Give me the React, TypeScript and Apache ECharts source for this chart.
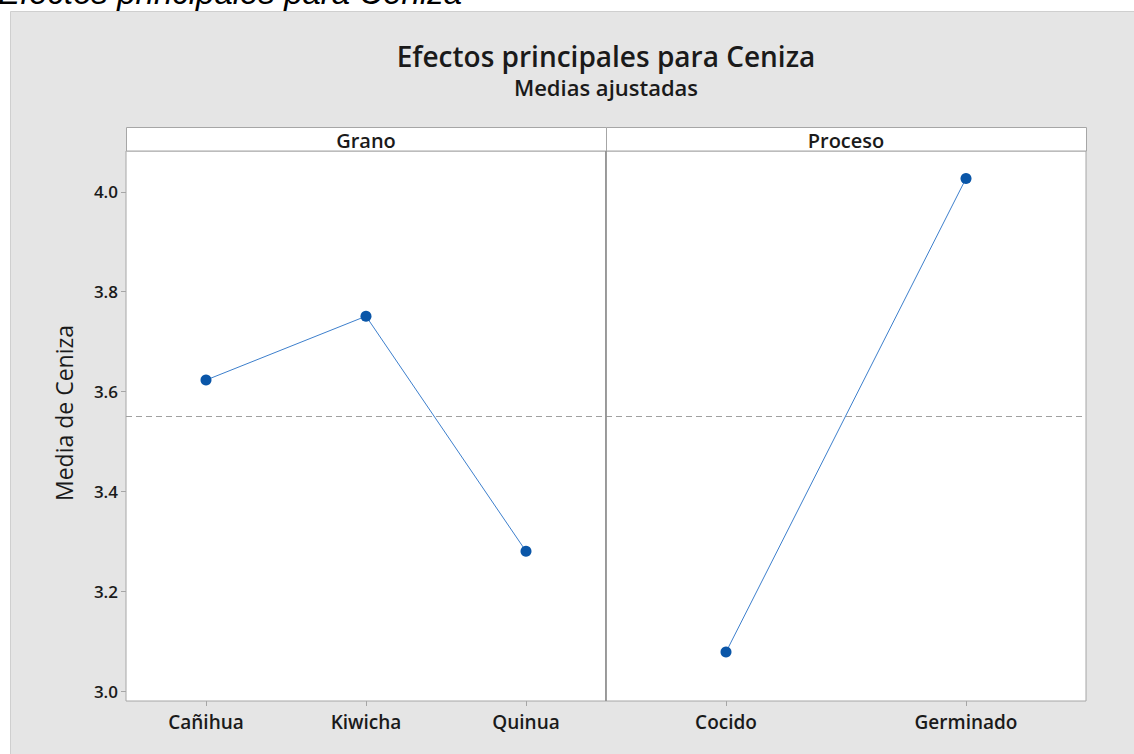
import React, { useEffect, useRef } from "react";
import * as echarts from "echarts";

const granoCats = ["Cañihua", "Kiwicha", "Quinua"];
const granoVals = [3.623, 3.751, 3.28];
const procesoCats = ["Cocido", "Germinado"];
const procesoVals = [3.078, 4.027];
const grandMean = 3.552;
const yTicks = [3.0, 3.2, 3.4, 3.6, 3.8, 4.0];
const panelTitles = ["Grano", "Proceso"];
const yAxisTitle = "Media de Ceniza";

const FONT = "'Open Sans', 'Noto Sans', sans-serif";
const TXT = "#1a1a1a";
const BORDER = "#a6a6a6";

export default function App() {
  const ref = useRef<HTMLDivElement>(null);
  useEffect(() => {
    if (!ref.current) return;
    const chart = echarts.init(ref.current, undefined, { renderer: "svg" });
    const yMin = 2.98;
    const yMax = 4.082;
    const gridTop = 151;
    const gridH = 550;
    const lefts = [126, 606];
    const w = 480;

    const yAxisCommon = (show: boolean, idx: number) => ({
      type: "value",
      gridIndex: idx,
      z: 10,
      min: yMin,
      max: yMax,
      show: true,
      axisLine: { show: false },
      splitLine: { show: false },
      axisTick: show
        ? { show: true, length: 5, customValues: yTicks, lineStyle: { color: BORDER } }
        : { show: false },
      axisLabel: show
        ? {
            show: true,
            customValues: yTicks,
            formatter: (v: number) => v.toFixed(1),
            color: TXT,
            fontFamily: FONT,
            fontWeight: 600,
            fontSize: 17,
            margin: 8,
          }
        : { show: false },
    });

    const xAxisCommon = (cats: string[], idx: number) => ({
      type: "category",
      gridIndex: idx,
      z: 10,
      data: cats,
      boundaryGap: true,
      axisLine: { show: false },
      axisTick: { show: true, alignWithLabel: true, length: 5, lineStyle: { color: BORDER } },
      axisLabel: {
        color: TXT,
        fontFamily: FONT,
        fontWeight: 600,
        fontSize: 19,
        margin: 11,
      },
      splitLine: { show: false },
    });

    const markLine = {
      silent: true,
      symbol: ["none", "none"],
      label: { show: false },
      lineStyle: { color: "#a0a0a0", type: [6, 4], width: 1 },
      data: [{ yAxis: grandMean }],
    };

    const seriesCommon = {
      type: "line",
      z: 12,
      symbol: "circle",
      symbolSize: 11,
      itemStyle: { color: "#0a56a8" },
      lineStyle: { color: "#3d7fcc", width: 1 },
    };

    const graphics: any[] = [
      {
        type: "text",
        x: -2,
        y: 9,
        z: 1,
        style: {
          text: "Efectos principales para Ceniza",
          font: "italic 33px 'Liberation Sans', Arial, sans-serif",
          fill: "#000",
          textVerticalAlign: "bottom",
          textBaseline: "alphabetic",
        },
      },
      {
        type: "rect",
        z: 2,
        shape: { x: 10.5, y: 11.5, width: 1130, height: 750 },
        style: { fill: "#e5e5e5", stroke: "#cfcfcf", lineWidth: 1 },
      },
      {
        type: "text",
        x: 606,
        y: 56,
        z: 3,
        style: {
          text: "Efectos principales para Ceniza",
          font: `600 28px ${FONT}`,
          fill: TXT,
          textAlign: "center",
          textVerticalAlign: "middle",
        },
      },
      {
        type: "text",
        x: 606,
        y: 87,
        z: 3,
        style: {
          text: "Medias ajustadas",
          font: `600 22px ${FONT}`,
          fill: TXT,
          textAlign: "center",
          textVerticalAlign: "middle",
        },
      },
      {
        type: "text",
        x: 64,
        y: 413,
        rotation: Math.PI / 2,
        z: 3,
        style: {
          text: yAxisTitle,
          font: `500 23px ${FONT}`,
          fill: TXT,
          textAlign: "center",
          textVerticalAlign: "middle",
        },
      },
    ];
    lefts.forEach((l, i) => {
      graphics.push({
        type: "rect",
        z: 3,
        shape: { x: l + 0.5, y: 127.5, width: w, height: 23.5 },
        style: { fill: "#ffffff", stroke: BORDER, lineWidth: 1 },
      });
      graphics.push({
        type: "text",
        x: l + w / 2,
        y: 140,
        z: 4,
        style: {
          text: panelTitles[i],
          font: `600 20px ${FONT}`,
          fill: TXT,
          textAlign: "center",
          textVerticalAlign: "middle",
        },
      });
    });
    graphics.push({
      type: "line",
      z: 100,
      shape: { x1: 606, y1: 151, x2: 606, y2: 701 },
      style: { stroke: "#8c8c8c", lineWidth: 1.5 },
    });

    chart.setOption({
      animation: false,
      backgroundColor: "#ffffff",
      graphic: { elements: graphics },
      grid: lefts.map((l) => ({
        left: l,
        top: gridTop,
        width: w,
        height: gridH,
        show: true,
        backgroundColor: "#ffffff",
        borderColor: BORDER,
        borderWidth: 1,
        z: 3,
      })),
      xAxis: [xAxisCommon(granoCats, 0), xAxisCommon(procesoCats, 1)],
      yAxis: [yAxisCommon(true, 0), yAxisCommon(false, 1)],
      series: [
        { ...seriesCommon, xAxisIndex: 0, yAxisIndex: 0, data: granoVals, markLine },
        { ...seriesCommon, xAxisIndex: 1, yAxisIndex: 1, data: procesoVals, markLine },
      ],
    });
    return () => chart.dispose();
  }, []);
  return (
    <div
      ref={ref}
      style={{ position: "absolute", left: 0, top: 0, width: 1134, height: 754 }}
    />
  );
}
